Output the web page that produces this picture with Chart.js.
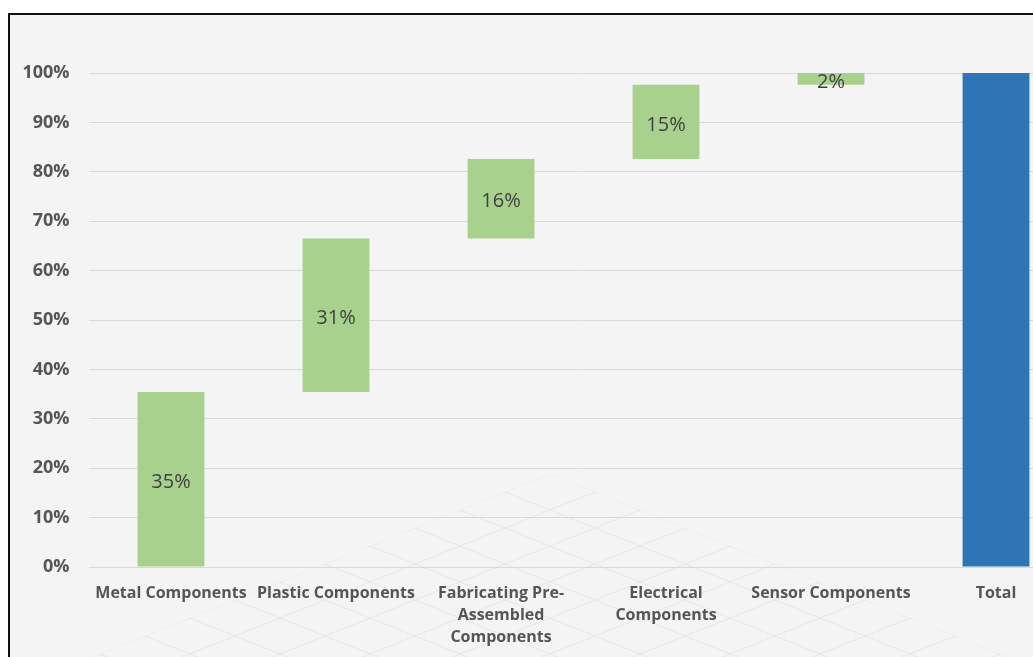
<!DOCTYPE html>
<html lang="en">
<head>
    <meta charset="UTF-8">
    <title>Component Cost Breakdown</title>
    <script src="https://cdn.jsdelivr.net/npm/chart.js"></script>
    <style>
        html, body {
            margin: 0;
            padding: 0;
            overflow: hidden;
            background: #ffffff;
        }

        .chart-frame {
            position: absolute;
            left: 8px;
            top: 13px;
            width: 1085px;
            height: 645px;
            border: 2px solid #111;
            background: #f4f4f4;
        }
    </style>
</head>
<body>
    <div class="chart-frame">
        <canvas id="waterfallChart" width="1085" height="645"></canvas>
    </div>

    <script>
        // Categories (multi-line labels) and their shares
        const categories = [
            ['Metal Components'],
            ['Plastic Components'],
            ['Fabricating Pre-', 'Assembled', 'Components'],
            ['Electrical', 'Components'],
            ['Sensor Components'],
            ['Total']
        ];
        const shares = [35.4, 31.1, 16.1, 15.0, 2.4];
        const totalShare = 100;
        const yTicks = [0, 10, 20, 30, 40, 50, 60, 70, 80, 90, 100];

        // Floating ranges: each step starts where the previous one ended
        const ranges = [];
        let running = 0;
        shares.forEach(v => {
            ranges.push([running, running + v]);
            running += v;
        });
        ranges.push([0, totalShare]);

        const barColors = shares.map(() => '#a9d18e').concat('#2e75b6');
        const barLabels = shares.map(v => Math.round(v) + '%').concat('');

        // Faint perspective floor grid behind the bottom of the chart
        const floorGrid = {
            id: 'floorGrid',
            beforeDraw(chart) {
                const ctx = chart.ctx;
                const ax = 540, ay = 459, slope = 0.4, step = 36;
                const w = chart.width, h = chart.height;
                ctx.save();
                ctx.beginPath();
                ctx.moveTo(ax, ay);
                ctx.lineTo(ax + (h - ay) / slope, h);
                ctx.lineTo(ax - (h - ay) / slope, h);
                ctx.closePath();
                ctx.clip();
                ctx.strokeStyle = 'rgba(0, 0, 0, 0.045)';
                ctx.lineWidth = 1.2;
                for (let k = 0; k < 12; k++) {
                    const off = k * step;
                    ctx.beginPath();
                    ctx.moveTo(0, ay + slope * (0 - ax) + off);
                    ctx.lineTo(w, ay + slope * (w - ax) + off);
                    ctx.moveTo(0, ay - slope * (0 - ax) + off);
                    ctx.lineTo(w, ay - slope * (w - ax) + off);
                    ctx.stroke();
                }
                ctx.restore();
            }
        };

        // Writes the step value in the middle of each green bar
        const valueLabels = {
            id: 'valueLabels',
            afterDatasetsDraw(chart) {
                const ctx = chart.ctx;
                const meta = chart.getDatasetMeta(0);
                ctx.save();
                ctx.font = '20px "Open Sans", sans-serif';
                ctx.fillStyle = '#404040';
                ctx.textAlign = 'center';
                ctx.textBaseline = 'middle';
                meta.data.forEach((bar, i) => {
                    if (!barLabels[i]) return;
                    const mid = (bar.y + bar.base) / 2;
                    ctx.fillText(barLabels[i], bar.x, mid + 3);
                });
                ctx.restore();
            }
        };

        new Chart(document.getElementById('waterfallChart').getContext('2d'), {
            type: 'bar',
            data: {
                labels: categories,
                datasets: [{
                    data: ranges,
                    backgroundColor: barColors,
                    borderWidth: 0,
                    barPercentage: 1,
                    categoryPercentage: 0.405
                }]
            },
            options: {
                responsive: false,
                animation: false,
                layout: {
                    padding: { top: 58, right: 16.5, bottom: 0, left: 0 }
                },
                plugins: {
                    legend: { display: false },
                    tooltip: { enabled: false }
                },
                scales: {
                    x: {
                        grid: { display: false, drawTicks: false },
                        border: { display: false },
                        ticks: {
                            color: '#555555',
                            padding: 15,
                            maxRotation: 0,
                            autoSkip: false,
                            font: { family: '"Open Sans", sans-serif', size: 16, weight: 'bold', lineHeight: 1.375 }
                        },
                        afterFit(scale) {
                            scale.height = 93;
                        }
                    },
                    y: {
                        min: 0,
                        max: 100,
                        afterBuildTicks(scale) {
                            scale.ticks = yTicks.map(v => ({ value: v }));
                        },
                        grid: { color: '#d9d9d9', lineWidth: 1, drawTicks: false },
                        border: { display: false },
                        ticks: {
                            color: '#555555',
                            padding: 19,
                            font: { family: '"Open Sans", sans-serif', size: 18, weight: 'bold' },
                            callback: v => v + '%'
                        },
                        afterFit(scale) {
                            scale.width = 78.5;
                        }
                    }
                }
            },
            plugins: [floorGrid, valueLabels]
        });
    </script>
</body>
</html>
